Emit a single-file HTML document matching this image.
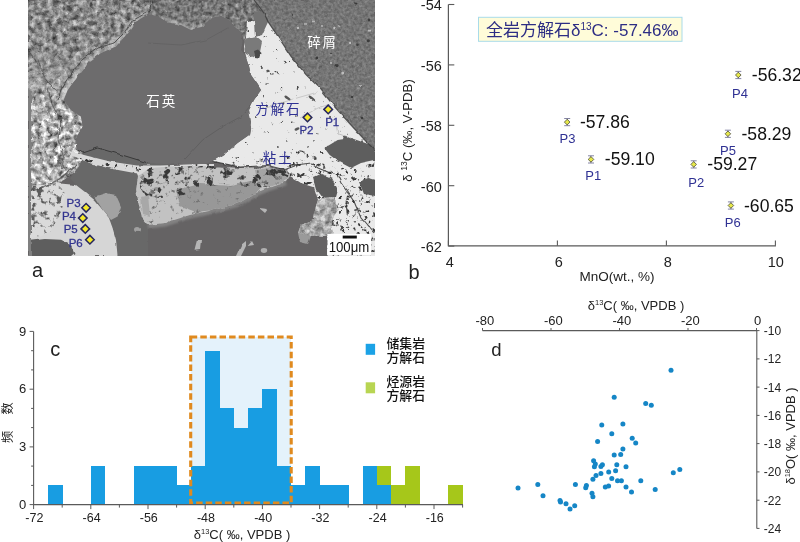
<!DOCTYPE html>
<html lang="zh"><head><meta charset="utf-8"><title>figure</title>
<style>html,body{margin:0;padding:0;background:#fff;}svg{display:block;}text{font-family:"Liberation Sans", "Noto Sans CJK SC", sans-serif;}</style></head><body>
<svg width="800" height="542" viewBox="0 0 800 542">
<rect width="800" height="542" fill="#fff"/>
<defs>
<clipPath id="photo"><rect x="28" y="0" width="347" height="256"/></clipPath>
<filter id="nMatrix" x="0" y="0" width="100%" height="100%" color-interpolation-filters="sRGB"><feTurbulence type="fractalNoise" baseFrequency="0.19" numOctaves="3" seed="4" result="t"/><feColorMatrix in="t" type="matrix" values="0.9 0 0 0 0.085  0.9 0 0 0 0.085  0.9 0 0 0 0.085  0 0 0 0 1" result="g0"/><feGaussianBlur in="g0" stdDeviation="0.5" result="g"/><feComposite in="g" in2="SourceGraphic" operator="in"/></filter>
<filter id="nBright" x="0" y="0" width="100%" height="100%" color-interpolation-filters="sRGB"><feTurbulence type="fractalNoise" baseFrequency="0.19" numOctaves="3" seed="9" result="t"/><feColorMatrix in="t" type="matrix" values="1.3 0 0 0 0.03  1.3 0 0 0 0.03  1.3 0 0 0 0.03  0 0 0 0 1" result="g0"/><feGaussianBlur in="g0" stdDeviation="0.5" result="g"/><feComposite in="g" in2="SourceGraphic" operator="in"/></filter>
<filter id="nSpeckL" x="0" y="0" width="100%" height="100%" color-interpolation-filters="sRGB"><feTurbulence type="fractalNoise" baseFrequency="0.16" numOctaves="3" seed="19" result="t"/><feColorMatrix in="t" type="matrix" values="0 0 0 0 0.36  0 0 0 0 0.36  0 0 0 0 0.36  -6.5 0 0 0 3.0" result="g0"/><feGaussianBlur in="g0" stdDeviation="0.5" result="g"/><feComposite in="g" in2="SourceGraphic" operator="in"/></filter>
<filter id="nMid" x="0" y="0" width="100%" height="100%" color-interpolation-filters="sRGB"><feTurbulence type="fractalNoise" baseFrequency="0.25" numOctaves="2" seed="12" result="t"/><feColorMatrix in="t" type="matrix" values="0.6 0 0 0 0.17  0.6 0 0 0 0.17  0.6 0 0 0 0.17  0 0 0 0 1" result="g0"/><feGaussianBlur in="g0" stdDeviation="0.4" result="g"/><feComposite in="g" in2="SourceGraphic" operator="in"/></filter>
<filter id="nDebris" x="0" y="0" width="100%" height="100%" color-interpolation-filters="sRGB"><feTurbulence type="fractalNoise" baseFrequency="0.35" numOctaves="2" seed="7" result="t"/><feColorMatrix in="t" type="matrix" values="0.45 0 0 0 0.235  0.45 0 0 0 0.235  0.45 0 0 0 0.235  0 0 0 0 1" result="g"/><feComposite in="g" in2="SourceGraphic" operator="in"/></filter>
<filter id="nCalc" x="0" y="0" width="100%" height="100%" color-interpolation-filters="sRGB"><feTurbulence type="fractalNoise" baseFrequency="0.2" numOctaves="3" seed="21" result="t"/><feColorMatrix in="t" type="matrix" values="0 0 0 0 0.3  0 0 0 0 0.3  0 0 0 0 0.3  -9 0 0 0 2.6" result="g0"/><feGaussianBlur in="g0" stdDeviation="0.4" result="g"/><feComposite in="g" in2="SourceGraphic" operator="in"/></filter>
<filter id="nCalc2" x="0" y="0" width="100%" height="100%" color-interpolation-filters="sRGB"><feTurbulence type="fractalNoise" baseFrequency="0.22" numOctaves="3" seed="33" result="t"/><feColorMatrix in="t" type="matrix" values="0 0 0 0 0.22  0 0 0 0 0.22  0 0 0 0 0.22  -7 0 0 0 2.85" result="g0"/><feGaussianBlur in="g0" stdDeviation="0.4" result="g"/><feComposite in="g" in2="SourceGraphic" operator="in"/></filter>
<filter id="nClay" x="0" y="0" width="100%" height="100%" color-interpolation-filters="sRGB"><feTurbulence type="fractalNoise" baseFrequency="0.13" numOctaves="3" seed="5" result="t"/><feColorMatrix in="t" type="matrix" values="0 0 0 0 0.22  0 0 0 0 0.22  0 0 0 0 0.22  -8 0 0 0 3.75" result="g0"/><feGaussianBlur in="g0" stdDeviation="0.4" result="g"/><feComposite in="g" in2="SourceGraphic" operator="in"/></filter>
<filter id="nClayLt" x="0" y="0" width="100%" height="100%" color-interpolation-filters="sRGB"><feTurbulence type="fractalNoise" baseFrequency="0.2" numOctaves="3" seed="15" result="t"/><feColorMatrix in="t" type="matrix" values="0 0 0 0 0.45  0 0 0 0 0.45  0 0 0 0 0.45  -6 0 0 0 2.15" result="g0"/><feGaussianBlur in="g0" stdDeviation="0.4" result="g"/><feComposite in="g" in2="SourceGraphic" operator="in"/></filter>
<filter id="wobble" x="0" y="0" width="100%" height="100%" color-interpolation-filters="sRGB"><feTurbulence type="fractalNoise" baseFrequency="0.11" numOctaves="2" seed="8" result="w"/><feDisplacementMap in="SourceGraphic" in2="w" scale="3.2" xChannelSelector="R" yChannelSelector="G" result="d"/><feGaussianBlur in="d" stdDeviation="0.35"/></filter>
<filter id="soft" x="-10%" y="-10%" width="120%" height="120%"><feGaussianBlur stdDeviation="1.3"/></filter>
<linearGradient id="fadeg" gradientUnits="userSpaceOnUse" x1="0" y1="50" x2="0" y2="112"><stop offset="0" stop-color="#fff" stop-opacity="0"/><stop offset="1" stop-color="#fff" stop-opacity="1"/></linearGradient>
<mask id="fadem" maskUnits="userSpaceOnUse" x="0" y="0" width="400" height="300"><rect x="0" y="0" width="400" height="300" fill="url(#fadeg)"/></mask>
</defs>
<g clip-path="url(#photo)">
<g filter="url(#wobble)">
<rect x="20" y="-8" width="365" height="272" fill="#656364"/>
<rect x="28" y="0" width="347" height="256" fill="#656364"/>
<polygon points="28.0,0.0 254.0,0.0 262.0,12.0 250.0,22.0 244.0,40.0 242.0,34.0 234.0,26.0 229.0,20.0 221.0,16.0 211.0,18.0 203.0,26.5 191.0,30.0 181.0,25.0 168.0,22.4 158.0,16.6 148.0,14.0 134.0,23.0 126.0,35.0 116.0,46.5 101.0,53.0 89.4,61.4 81.0,73.0 72.8,83.0 67.8,90.0 63.7,100.0 71.0,110.0 81.0,116.5 82.8,126.5 76.0,138.0 77.8,150.0 90.0,160.0 70.0,170.0 60.0,184.0 28.0,200.0" fill="#8a8a8a"/>
<polygon points="28.0,0.0 254.0,0.0 262.0,12.0 250.0,22.0 244.0,40.0 242.0,34.0 234.0,26.0 229.0,20.0 221.0,16.0 211.0,18.0 203.0,26.5 191.0,30.0 181.0,25.0 168.0,22.4 158.0,16.6 148.0,14.0 134.0,23.0 126.0,35.0 116.0,46.5 101.0,53.0 89.4,61.4 81.0,73.0 72.8,83.0 67.8,90.0 63.7,100.0 71.0,110.0 81.0,116.5 82.8,126.5 76.0,138.0 77.8,150.0 90.0,160.0 70.0,170.0 60.0,184.0 28.0,200.0" fill="#8a8a8a" filter="url(#nMatrix)"/>
<polygon points="150.0,0.0 254.0,0.0 262.0,12.0 250.0,22.0 244.0,40.0 242.0,34.0 234.0,26.0 229.0,20.0 221.0,16.0 211.0,18.0 203.0,26.5 191.0,30.0 181.0,25.0 168.0,22.4 158.0,16.6 150.0,14.0" fill="#7c7c7c" filter="url(#nMid)"/>
<g mask="url(#fadem)"><polygon points="28.0,50.0 96.0,50.0 89.4,61.4 81.0,73.0 72.8,83.0 67.8,90.0 63.7,100.0 71.0,110.0 81.0,116.5 82.8,126.5 76.0,138.0 77.8,150.0 92.0,160.0 75.0,172.0 58.0,184.0 28.0,200.0" fill="#b8b8b8" filter="url(#nBright)"/></g>
<polygon points="254.0,0.0 375.0,0.0 375.0,150.0 367.6,143.0 351.0,125.0 334.4,106.6 319.5,88.0 306.0,74.7 291.0,56.4 278.0,36.5 268.0,21.6 264.0,13.0" fill="#767676"/>
<polygon points="254.0,0.0 375.0,0.0 375.0,150.0 367.6,143.0 351.0,125.0 334.4,106.6 319.5,88.0 306.0,74.7 291.0,56.4 278.0,36.5 268.0,21.6 264.0,13.0" fill="#767676" filter="url(#nDebris)" opacity="0.6"/>
<polygon points="254.0,10.0 264.0,13.0 268.0,21.6 266.0,34.0 256.0,37.0 254.0,22.0" fill="#727272"/>
<polygon points="247.0,22.0 254.0,21.0 255.0,37.0 262.0,35.0 268.0,22.0 278.0,36.5 291.0,56.4 306.0,74.7 319.5,88.0 334.4,106.6 351.0,125.0 367.6,143.0 375.0,150.0 375.0,256.0 327.0,256.0 327.0,234.0 311.0,236.0 298.0,233.0 301.0,225.0 314.0,220.0 316.0,206.0 318.0,200.0 314.0,187.0 301.0,183.0 290.0,176.0 285.0,170.0 268.0,166.0 240.0,167.0 212.7,161.4 226.0,153.0 237.6,143.0 249.0,135.0 251.0,123.0 249.0,110.0 254.0,100.0 261.0,90.0 257.5,84.6 251.0,75.0 249.0,66.0 246.0,56.4 244.0,46.0 246.0,38.0" fill="#e9e9e9"/>
<polygon points="247.0,22.0 254.0,21.0 255.0,37.0 262.0,35.0 268.0,22.0 278.0,36.5 291.0,56.4 306.0,74.7 319.5,88.0 334.4,106.6 351.0,125.0 367.6,143.0 375.0,150.0 375.0,256.0 327.0,256.0 327.0,234.0 311.0,236.0 298.0,233.0 301.0,225.0 314.0,220.0 316.0,206.0 318.0,200.0 314.0,187.0 301.0,183.0 290.0,176.0 285.0,170.0 268.0,166.0 240.0,167.0 212.7,161.4 226.0,153.0 237.6,143.0 249.0,135.0 251.0,123.0 249.0,110.0 254.0,100.0 261.0,90.0 257.5,84.6 251.0,75.0 249.0,66.0 246.0,56.4 244.0,46.0 246.0,38.0" fill="#e9e9e9" filter="url(#nCalc)"/>
<polygon points="212.0,162.0 240.0,160.0 270.0,158.0 300.0,150.0 330.0,160.0 352.0,170.0 375.0,162.0 375.0,256.0 327.0,256.0 327.0,234.0 311.0,236.0 298.0,233.0 301.0,225.0 314.0,220.0 316.0,206.0 318.0,200.0 314.0,187.0 301.0,183.0 290.0,176.0 285.0,170.0 268.0,166.0 240.0,167.0" fill="#e0e0e0" filter="url(#nCalc2)"/>
<polygon points="244.0,40.0 256.0,37.0 262.0,42.0 260.0,52.0 252.0,57.0 246.0,54.0" fill="#7a7a7a"/>
<polygon points="324.4,148.0 337.7,140.0 351.0,138.0 361.0,141.5 371.0,145.0 375.0,151.0 375.0,160.0 361.0,163.0 351.0,168.0 337.7,161.0 329.4,154.7" fill="#5e5e5e"/>
<polygon points="313.0,178.0 322.0,174.0 332.0,178.0 338.0,190.0 336.0,197.0 322.0,198.0 316.0,190.0" fill="#5c5c5c"/>
<polygon points="359.0,182.0 368.0,178.0 375.0,180.0 375.0,196.0 364.0,194.0" fill="#5c5c5c"/>
<polygon points="318.0,200.0 334.0,197.0 338.0,210.0 330.0,222.0 334.0,236.0 311.0,236.0 298.0,233.0 301.0,225.0 314.0,220.0 316.0,206.0" fill="#a6a6a6"/>
<polygon points="318.0,200.0 334.0,197.0 338.0,210.0 330.0,222.0 334.0,236.0 311.0,236.0 298.0,233.0 301.0,225.0 314.0,220.0 316.0,206.0" fill="#a6a6a6" filter="url(#nBright)" opacity="0.6"/>
<polyline points="148,14 134,23 126,35 116,46.5 101,53 89.4,61.4 81,73 72.8,83 67.8,90 63.7,100" fill="none" stroke="#d0d0d0" stroke-width="8" opacity="0.5" filter="url(#soft)"/>
<polyline points="160,18 168,22.4 181,25 191,30 203,26.5" fill="none" stroke="#d0d0d0" stroke-width="5" opacity="0.45" filter="url(#soft)"/>
<polygon points="148.0,14.0 158.0,16.6 168.0,22.4 181.0,25.0 191.0,30.0 203.0,26.5 211.0,18.0 221.0,16.0 229.0,20.0 234.0,26.5 241.0,33.0 242.6,41.5 241.0,50.0 246.0,56.4 249.0,66.0 251.0,75.0 257.5,84.6 261.0,90.0 254.0,100.0 249.0,110.0 251.0,123.0 249.0,135.0 237.6,143.0 226.0,153.0 212.7,161.4 204.4,164.0 184.5,164.7 178.0,163.0 161.0,164.7 148.0,163.0 121.0,154.7 97.7,148.0 82.8,153.0 77.8,150.0 76.0,138.0 82.8,126.5 81.0,116.5 71.0,110.0 63.7,100.0 67.8,90.0 72.8,83.0 81.0,73.0 89.4,61.4 101.0,53.0 116.0,46.5 126.0,35.0 134.0,23.0" fill="#6d6c6d"/>
<polygon points="82.8,153.0 97.7,148.0 121.0,154.7 148.0,163.0 178.0,165.0 165.0,172.0 155.0,183.0 146.0,195.0 140.0,205.0 142.0,218.0 148.0,225.0 148.0,256.0 117.6,256.0 116.0,239.7 112.6,228.0 109.0,218.0 101.0,208.0 94.4,200.0 84.4,191.6 76.0,185.0 70.0,178.0 80.0,165.0" fill="#686868"/>
<polygon points="70.0,151.0 84.0,155.0 94.0,157.5 110.0,161.5 137.0,165.5 160.0,165.5 200.0,164.0 214.0,164.0 214.0,169.0 190.0,170.0 160.0,172.0 138.0,176.0 137.0,173.5 110.0,168.5 91.0,163.5 72.0,156.0" fill="#d8d8d8"/>
<polygon points="70.0,151.0 84.0,155.0 94.0,157.5 110.0,161.5 137.0,165.5 160.0,165.5 200.0,164.0 214.0,164.0 214.0,169.0 190.0,170.0 160.0,172.0 138.0,176.0 137.0,173.5 110.0,168.5 91.0,163.5 72.0,156.0" fill="#d8d8d8" filter="url(#nCalc2)"/>
<polyline points="77.8,150 82.8,153 97.7,148 121,154.7 148,163" fill="none" stroke="#3a3a3a" stroke-width="1"/>
<polyline points="148,226 165,224 190,216 214,211 239,204 256,194 268,189 286,183" fill="none" stroke="#909090" stroke-width="5" opacity="0.7" filter="url(#soft)"/>
<polygon points="136.0,190.0 138.0,176.0 150.0,168.0 178.0,166.0 212.0,166.0 240.0,168.0 268.0,167.0 285.0,171.0 290.0,176.0 286.0,182.0 268.0,188.0 256.0,193.0 239.0,203.0 214.0,210.0 190.0,215.0 165.0,223.0 148.0,225.0 142.0,218.0 139.0,205.0" fill="#c2c2c2"/>
<polygon points="176.0,190.0 200.0,184.0 232.0,186.0 252.0,180.0 262.0,186.0 256.0,193.0 239.0,203.0 214.0,210.0 196.0,212.0 180.0,206.0" fill="#989898"/>
<polygon points="255.0,170.0 268.0,168.0 285.0,172.0 289.0,177.0 284.0,182.0 268.0,187.0 258.0,184.0" fill="#a4a4a4"/>
<polygon points="137.0,182.0 138.0,176.0 150.0,168.0 178.0,166.0 212.0,166.0 240.0,168.0 268.0,167.0 285.0,171.0 290.0,176.0 286.0,182.0 268.0,188.0 250.0,186.0 225.0,184.0 200.0,188.0 180.0,196.0 160.0,198.0 145.0,196.0" fill="#bdbdbd" filter="url(#nClay)"/>
<polygon points="136.0,190.0 138.0,176.0 150.0,168.0 178.0,166.0 212.0,166.0 240.0,168.0 268.0,167.0 285.0,171.0 290.0,176.0 286.0,182.0 268.0,188.0 256.0,193.0 239.0,203.0 214.0,210.0 190.0,215.0 165.0,223.0 148.0,225.0 142.0,218.0 139.0,205.0" fill="#bdbdbd" filter="url(#nClayLt)"/>
<polygon points="194.5,249.7 197.0,240.0 201.0,240.0 200.0,249.0" fill="#b5b5b5"/>
<polygon points="236.0,256.0 241.0,245.0 246.0,241.0 246.0,246.0 241.0,256.0" fill="#b5b5b5"/>
<polygon points="247.6,246.0 252.0,241.0 254.0,245.0" fill="#b5b5b5"/>
<polygon points="259.0,208.0 268.0,209.0 265.0,213.0" fill="#b5b5b5"/>
<ellipse cx="264" cy="250.5" rx="3.2" ry="2.4" fill="#b0b0b0"/>
<polygon points="298.0,233.0 311.0,236.0 308.0,244.0 300.0,242.0" fill="#9a9a9a"/>
<polygon points="28.0,196.0 40.0,190.0 57.9,183.3 76.0,185.0 84.4,191.6 94.4,200.0 101.0,208.0 109.0,218.0 112.6,228.0 116.0,239.7 117.6,256.0 28.0,256.0" fill="#d6d6d6"/>
<polygon points="28.0,186.0 57.9,183.3 66.0,195.0 60.0,215.0 50.0,232.0 28.0,240.0" fill="#dadada"/>
<polygon points="28.0,186.0 57.9,183.3 66.0,195.0 60.0,215.0 50.0,232.0 28.0,240.0" fill="#dadada" filter="url(#nSpeckL)"/>
<polygon points="94.4,196.5 106.0,193.0 116.0,195.0 121.0,206.5 117.6,216.5 111.0,220.0 102.7,210.0" fill="#a2a2a2"/>
<polygon points="28.0,241.0 44.6,239.0 61.0,239.7 71.0,244.7 74.5,253.0 71.0,256.0 28.0,256.0" fill="#5e5e5e"/>
<polygon points="141.0,197.0 148.0,195.0 150.0,216.0 143.0,214.0" fill="#a8a8a8"/>
<ellipse cx="137" cy="229.5" rx="3" ry="2.5" fill="#a0a0a0"/>
<polyline points="28,192 38,189 48,185 58,180 68,172 76,166" fill="none" stroke="#3a3a3a" stroke-width="1.6" opacity="0.65"/>
<rect x="28" y="90" width="3" height="166" fill="#808080"/>
<polygon points="254.0,51.0 258.0,49.5 261.5,53.0 260.0,57.5 255.5,57.0" fill="#4a4a4a"/>
<ellipse cx="268" cy="71" rx="1.8" ry="1.2" transform="rotate(20 268 71)" fill="#3c3c3c" opacity="0.85"/>
<ellipse cx="272.5" cy="74.5" rx="1.6" ry="1.1" transform="rotate(-10 272.5 74.5)" fill="#3c3c3c" opacity="0.85"/>
<ellipse cx="287.5" cy="98" rx="3.6" ry="1.3" transform="rotate(35 287.5 98)" fill="#3c3c3c" opacity="0.85"/>
<ellipse cx="312" cy="98.5" rx="4.2" ry="1.4" transform="rotate(40 312 98.5)" fill="#3c3c3c" opacity="0.85"/>
<ellipse cx="297" cy="129" rx="2.6" ry="1.4" transform="rotate(-20 297 129)" fill="#3c3c3c" opacity="0.85"/>
<ellipse cx="345" cy="137" rx="2.2" ry="1.2" transform="rotate(10 345 137)" fill="#3c3c3c" opacity="0.85"/>
<polyline points="262,108 290,100 318,92" fill="none" stroke="#999" stroke-width="0.7" opacity="0.6"/>
<polyline points="300,118 318,108 330,104" fill="none" stroke="#999" stroke-width="0.7" opacity="0.6"/>
<polyline points="336,122 338,134 350,138" fill="none" stroke="#888" stroke-width="0.7" opacity="0.6"/>
<polyline points="184.5,159.7 202.8,139.8 222.7,126.5 241,116.5 251,105" fill="none" stroke="#444" stroke-width="0.8" opacity="0.4"/>
<polyline points="148,43 181,45 206,40 227.7,28" fill="none" stroke="#444" stroke-width="0.8" opacity="0.28"/>
<circle cx="356.8" cy="4" r="1.6" fill="#2e2e2e" opacity="0.8"/>
<circle cx="369" cy="20" r="1.4" fill="#2e2e2e" opacity="0.8"/>
<circle cx="368.4" cy="40.7" r="1.5" fill="#2e2e2e" opacity="0.8"/>
<circle cx="358.5" cy="44.8" r="1.3" fill="#2e2e2e" opacity="0.8"/>
<circle cx="317" cy="58" r="1.5" fill="#2e2e2e" opacity="0.8"/>
<circle cx="336" cy="65.6" r="1.6" fill="#2e2e2e" opacity="0.8"/>
<circle cx="331" cy="53" r="1.0" fill="#2e2e2e" opacity="0.8"/>
<circle cx="293" cy="15" r="1.0" fill="#2e2e2e" opacity="0.8"/>
<circle cx="352" cy="96" r="1.3" fill="#2e2e2e" opacity="0.8"/>
<circle cx="362" cy="118" r="1.2" fill="#2e2e2e" opacity="0.8"/>
<circle cx="298" cy="28" r="1.2" fill="#d8d8d8" opacity="0.75"/>
<circle cx="313" cy="21.6" r="1.0" fill="#d8d8d8" opacity="0.75"/>
<circle cx="334.4" cy="28" r="1.2" fill="#d8d8d8" opacity="0.75"/>
<circle cx="339.4" cy="25.7" r="1.0" fill="#d8d8d8" opacity="0.75"/>
<circle cx="349.3" cy="44" r="1.3" fill="#d8d8d8" opacity="0.75"/>
<circle cx="369" cy="30.7" r="1.1" fill="#d8d8d8" opacity="0.75"/>
<circle cx="342.7" cy="73" r="1.5" fill="#d8d8d8" opacity="0.75"/>
<circle cx="331" cy="63" r="1.0" fill="#d8d8d8" opacity="0.75"/>
<circle cx="305" cy="24" r="0.9" fill="#d8d8d8" opacity="0.75"/>
<circle cx="322" cy="26" r="0.9" fill="#d8d8d8" opacity="0.75"/>
<circle cx="360" cy="86" r="1.1" fill="#d8d8d8" opacity="0.75"/>
<polyline points="254,0 264,13 268,21.6 278,36.5 291,56.4 306,74.7 319.5,88 334.4,106.6 351,125 367.6,143 375,150" fill="none" stroke="#3c3c3c" stroke-width="1.2" opacity="0.8"/>
<polyline points="212.7,161.4 240,167 268,165.5 284.6,169.7 298,164.7 311,163 318,168 337.7,176 341,183 354,201.5 361,218 374,233" fill="none" stroke="#333" stroke-width="1.1" opacity="0.85"/>
<polyline points="28,50 38,64 46,80 56,90" fill="none" stroke="#3c3c3c" stroke-width="0.9" opacity="0.6"/>
<polyline points="152,0 150,10 146,13 132,21 124,33 114,43 98,48 84,58 74,70 66,81 61,90 58,100" fill="none" stroke="#383838" stroke-width="1" opacity="0.75"/>
<polyline points="48,88 52,104 60,120 58,140 64,158 60,176" fill="none" stroke="#3c3c3c" stroke-width="1.2" opacity="0.6"/>
</g>
<rect x="327.4" y="233.9" width="43.6" height="21" fill="#fff"/>
<rect x="342.7" y="235.6" width="14.1" height="2.9" fill="#111"/>
<text x="349" y="252.2" font-size="14" text-anchor="middle" fill="#111" textLength="40.6" lengthAdjust="spacingAndGlyphs">100μm</text>
</g>
<text x="146.3" y="106.3" font-size="13.5" letter-spacing="1.9" fill="#fff">石英</text>
<text x="307.2" y="46.7" font-size="13.5" letter-spacing="1.9" fill="#fff">碎屑</text>
<text x="255.3" y="114.3" font-size="13.5" letter-spacing="1.9" fill="#2f3193">方解石</text>
<text x="262.8" y="163.3" font-size="13.5" letter-spacing="1.6" fill="#2f3193">粘土</text>
<polygon points="323.9,109.4 328.2,105.1 332.5,109.4 328.2,113.7" fill="#f4e92a" stroke="#26265e" stroke-width="1.5" stroke-linejoin="miter"/>
<polygon points="303.2,117.4 307.5,113.1 311.8,117.4 307.5,121.7" fill="#f4e92a" stroke="#26265e" stroke-width="1.5" stroke-linejoin="miter"/>
<polygon points="81.8,207.8 86.1,203.5 90.4,207.8 86.1,212.1" fill="#f4e92a" stroke="#26265e" stroke-width="1.5" stroke-linejoin="miter"/>
<polygon points="78.5,218.1 82.8,213.8 87.1,218.1 82.8,222.4" fill="#f4e92a" stroke="#26265e" stroke-width="1.5" stroke-linejoin="miter"/>
<polygon points="81.0,228.9 85.3,224.6 89.6,228.9 85.3,233.2" fill="#f4e92a" stroke="#26265e" stroke-width="1.5" stroke-linejoin="miter"/>
<polygon points="85.6,239.7 89.9,235.4 94.2,239.7 89.9,244.0" fill="#f4e92a" stroke="#26265e" stroke-width="1.5" stroke-linejoin="miter"/>
<text x="332.2" y="125.8" font-size="11.5" text-anchor="middle" fill="#33358f" stroke="#33358f" stroke-width="0.3">P1</text>
<text x="306.5" y="133.6" font-size="11.5" text-anchor="middle" fill="#33358f" stroke="#33358f" stroke-width="0.3">P2</text>
<text x="73.6" y="206.6" font-size="11.5" text-anchor="middle" fill="#33358f" stroke="#33358f" stroke-width="0.3">P3</text>
<text x="69" y="220.4" font-size="11.5" text-anchor="middle" fill="#33358f" stroke="#33358f" stroke-width="0.3">P4</text>
<text x="70.7" y="233" font-size="11.5" text-anchor="middle" fill="#33358f" stroke="#33358f" stroke-width="0.3">P5</text>
<text x="75.7" y="247" font-size="11.5" text-anchor="middle" fill="#33358f" stroke="#33358f" stroke-width="0.3">P6</text>
<text x="32" y="277.3" font-size="20" fill="#222">a</text>
<path d="M448.4,4.5 V245.8 H775.9" fill="none" stroke="#5a5a5a" stroke-width="1.2"/>
<line x1="448.4" y1="4.5" x2="454.3" y2="4.5" stroke="#5a5a5a" stroke-width="1.1"/>
<text x="441.8" y="10.3" font-size="14.5" text-anchor="end" fill="#222">-54</text>
<line x1="448.4" y1="64.9" x2="454.3" y2="64.9" stroke="#5a5a5a" stroke-width="1.1"/>
<text x="441.8" y="70.7" font-size="14.5" text-anchor="end" fill="#222">-56</text>
<line x1="448.4" y1="125.3" x2="454.3" y2="125.3" stroke="#5a5a5a" stroke-width="1.1"/>
<text x="441.8" y="131.1" font-size="14.5" text-anchor="end" fill="#222">-58</text>
<line x1="448.4" y1="185.7" x2="454.3" y2="185.7" stroke="#5a5a5a" stroke-width="1.1"/>
<text x="441.8" y="191.5" font-size="14.5" text-anchor="end" fill="#222">-60</text>
<line x1="448.4" y1="246.1" x2="454.3" y2="246.1" stroke="#5a5a5a" stroke-width="1.1"/>
<text x="441.8" y="251.9" font-size="14.5" text-anchor="end" fill="#222">-62</text>
<line x1="448.4" y1="245.8" x2="448.4" y2="240.5" stroke="#5a5a5a" stroke-width="1.1"/>
<text x="449.9" y="267.4" font-size="14.5" text-anchor="middle" fill="#222">4</text>
<line x1="557.4" y1="245.8" x2="557.4" y2="240.5" stroke="#5a5a5a" stroke-width="1.1"/>
<text x="558.9" y="267.4" font-size="14.5" text-anchor="middle" fill="#222">6</text>
<line x1="666.4" y1="245.8" x2="666.4" y2="240.5" stroke="#5a5a5a" stroke-width="1.1"/>
<text x="667.9" y="267.4" font-size="14.5" text-anchor="middle" fill="#222">8</text>
<line x1="775.4" y1="245.8" x2="775.4" y2="240.5" stroke="#5a5a5a" stroke-width="1.1"/>
<text x="775.7" y="267.4" font-size="14.5" text-anchor="middle" fill="#222">10</text>
<text x="617" y="281" font-size="13.5" text-anchor="middle" fill="#222">MnO(wt., %)</text>
<text x="408.5" y="279" font-size="20" fill="#222">b</text>
<text transform="translate(411.5,130.5) rotate(-90)" font-size="13.2" text-anchor="middle" fill="#222">δ <tspan font-size="8.5" dy="-4.5">13</tspan><tspan dy="4.5">C (‰, V-PDB)</tspan></text>
<rect x="478.5" y="17.3" width="203.5" height="24" fill="#fffcd9" stroke="#a9dbe9" stroke-width="1"/>
<text x="486" y="36.2" font-size="17" fill="#2d2d84">全岩方解石δ<tspan font-size="10" dy="-6.5">13</tspan><tspan dy="6.5">C: -57.46‰</tspan></text>
<path d="M588.0,155.8 h6 M588.0,163.0 h6 M591.0,155.8 v7.2" fill="none" stroke="#77779a" stroke-width="0.9"/>
<polygon points="588.2,159.4 591.0,156.6 593.8,159.4 591.0,162.2" fill="#e6e84a" stroke="#4a4a3a" stroke-width="0.8"/>
<text x="604.8" y="165.4" font-size="17.6" fill="#111">-59.10</text>
<text x="593.3" y="179.5" font-size="13" text-anchor="middle" fill="#2f3193">P1</text>
<path d="M690.7,160.8 h6 M690.7,168.0 h6 M693.7,160.8 v7.2" fill="none" stroke="#77779a" stroke-width="0.9"/>
<polygon points="690.9,164.4 693.7,161.6 696.5,164.4 693.7,167.2" fill="#e6e84a" stroke="#4a4a3a" stroke-width="0.8"/>
<text x="707.3" y="170.4" font-size="17.6" fill="#111">-59.27</text>
<text x="696.2" y="187" font-size="13" text-anchor="middle" fill="#2f3193">P2</text>
<path d="M564.2,118.5 h6 M564.2,125.7 h6 M567.2,118.5 v7.2" fill="none" stroke="#77779a" stroke-width="0.9"/>
<polygon points="564.4,122.1 567.2,119.3 570.0,122.1 567.2,124.9" fill="#e6e84a" stroke="#4a4a3a" stroke-width="0.8"/>
<text x="579.9" y="128.1" font-size="17.6" fill="#111">-57.86</text>
<text x="567.5" y="143" font-size="13" text-anchor="middle" fill="#2f3193">P3</text>
<path d="M735.3,71.4 h6 M735.3,78.6 h6 M738.3,71.4 v7.2" fill="none" stroke="#77779a" stroke-width="0.9"/>
<polygon points="735.5,75.0 738.3,72.2 741.1,75.0 738.3,77.8" fill="#e6e84a" stroke="#4a4a3a" stroke-width="0.8"/>
<text x="751.8" y="81.0" font-size="17.6" fill="#111">-56.32</text>
<text x="740" y="97.5" font-size="13" text-anchor="middle" fill="#2f3193">P4</text>
<path d="M724.9,130.2 h6 M724.9,137.4 h6 M727.9,130.2 v7.2" fill="none" stroke="#77779a" stroke-width="0.9"/>
<polygon points="725.1,133.8 727.9,131.0 730.7,133.8 727.9,136.6" fill="#e6e84a" stroke="#4a4a3a" stroke-width="0.8"/>
<text x="741.5" y="139.8" font-size="17.6" fill="#111">-58.29</text>
<text x="728" y="155" font-size="13" text-anchor="middle" fill="#2f3193">P5</text>
<path d="M727.9,201.9 h6 M727.9,209.1 h6 M730.9,201.9 v7.2" fill="none" stroke="#77779a" stroke-width="0.9"/>
<polygon points="728.1,205.5 730.9,202.7 733.7,205.5 730.9,208.3" fill="#e6e84a" stroke="#4a4a3a" stroke-width="0.8"/>
<text x="744" y="211.5" font-size="17.6" fill="#111">-60.65</text>
<text x="732.7" y="226.5" font-size="13" text-anchor="middle" fill="#2f3193">P6</text>
<rect x="190.9" y="337" width="100.1" height="167.6" fill="#e4f2fb"/>
<rect x="47.90" y="485.36" width="14.60" height="19.24" fill="#189de2" shape-rendering="crispEdges"/>
<rect x="90.80" y="466.12" width="14.60" height="38.48" fill="#189de2" shape-rendering="crispEdges"/>
<rect x="133.70" y="466.12" width="14.60" height="38.48" fill="#189de2" shape-rendering="crispEdges"/>
<rect x="148.00" y="466.12" width="14.60" height="38.48" fill="#189de2" shape-rendering="crispEdges"/>
<rect x="162.30" y="466.12" width="14.60" height="38.48" fill="#189de2" shape-rendering="crispEdges"/>
<rect x="176.60" y="485.36" width="14.60" height="19.24" fill="#189de2" shape-rendering="crispEdges"/>
<rect x="190.90" y="466.12" width="14.60" height="38.48" fill="#189de2" shape-rendering="crispEdges"/>
<rect x="205.20" y="350.68" width="14.60" height="153.92" fill="#189de2" shape-rendering="crispEdges"/>
<rect x="219.50" y="408.40" width="14.60" height="96.20" fill="#189de2" shape-rendering="crispEdges"/>
<rect x="233.80" y="427.64" width="14.60" height="76.96" fill="#189de2" shape-rendering="crispEdges"/>
<rect x="248.10" y="408.40" width="14.60" height="96.20" fill="#189de2" shape-rendering="crispEdges"/>
<rect x="262.40" y="389.16" width="14.60" height="115.44" fill="#189de2" shape-rendering="crispEdges"/>
<rect x="276.70" y="466.12" width="14.60" height="38.48" fill="#189de2" shape-rendering="crispEdges"/>
<rect x="291.00" y="485.36" width="14.60" height="19.24" fill="#189de2" shape-rendering="crispEdges"/>
<rect x="305.30" y="466.12" width="14.60" height="38.48" fill="#189de2" shape-rendering="crispEdges"/>
<rect x="319.60" y="485.36" width="14.60" height="19.24" fill="#189de2" shape-rendering="crispEdges"/>
<rect x="333.90" y="485.36" width="14.60" height="19.24" fill="#189de2" shape-rendering="crispEdges"/>
<rect x="362.50" y="466.12" width="14.60" height="38.48" fill="#189de2" shape-rendering="crispEdges"/>
<rect x="376.80" y="485.36" width="14.60" height="19.24" fill="#189de2" shape-rendering="crispEdges"/>
<rect x="376.80" y="466.12" width="14.60" height="19.24" fill="#a6c71a" shape-rendering="crispEdges"/>
<rect x="391.10" y="485.36" width="14.60" height="19.24" fill="#a6c71a" shape-rendering="crispEdges"/>
<rect x="405.40" y="466.12" width="14.60" height="38.48" fill="#a6c71a" shape-rendering="crispEdges"/>
<rect x="448.30" y="485.36" width="14.60" height="19.24" fill="#a6c71a" shape-rendering="crispEdges"/>
<rect x="190.7" y="337" width="100.5" height="166.1" fill="none" stroke="#e08a1f" stroke-width="3.1" stroke-dasharray="6.5 3.1"/>
<path d="M33.6,331.4 V504.6 H463" fill="none" stroke="#5a5a5a" stroke-width="1.1"/>
<line x1="29.6" y1="504.6" x2="33.6" y2="504.6" stroke="#5a5a5a" stroke-width="1"/>
<text x="26.3" y="508.7" font-size="13" text-anchor="end" fill="#222">0</text>
<line x1="31.1" y1="485.4" x2="33.6" y2="485.4" stroke="#5a5a5a" stroke-width="1"/>
<line x1="31.1" y1="466.1" x2="33.6" y2="466.1" stroke="#5a5a5a" stroke-width="1"/>
<line x1="29.6" y1="446.9" x2="33.6" y2="446.9" stroke="#5a5a5a" stroke-width="1"/>
<text x="26.3" y="451.0" font-size="13" text-anchor="end" fill="#222">3</text>
<line x1="31.1" y1="427.6" x2="33.6" y2="427.6" stroke="#5a5a5a" stroke-width="1"/>
<line x1="31.1" y1="408.4" x2="33.6" y2="408.4" stroke="#5a5a5a" stroke-width="1"/>
<line x1="29.6" y1="389.2" x2="33.6" y2="389.2" stroke="#5a5a5a" stroke-width="1"/>
<text x="26.3" y="393.3" font-size="13" text-anchor="end" fill="#222">6</text>
<line x1="31.1" y1="369.9" x2="33.6" y2="369.9" stroke="#5a5a5a" stroke-width="1"/>
<line x1="31.1" y1="350.7" x2="33.6" y2="350.7" stroke="#5a5a5a" stroke-width="1"/>
<line x1="29.6" y1="331.4" x2="33.6" y2="331.4" stroke="#5a5a5a" stroke-width="1"/>
<text x="26.3" y="335.5" font-size="13" text-anchor="end" fill="#222">9</text>
<line x1="33.6" y1="504.6" x2="33.6" y2="509.1" stroke="#5a5a5a" stroke-width="1"/>
<text x="34.4" y="521.6" font-size="12.5" text-anchor="middle" fill="#222">-72</text>
<line x1="62.2" y1="504.6" x2="62.2" y2="507.6" stroke="#5a5a5a" stroke-width="1"/>
<line x1="90.8" y1="504.6" x2="90.8" y2="509.1" stroke="#5a5a5a" stroke-width="1"/>
<text x="91.6" y="521.6" font-size="12.5" text-anchor="middle" fill="#222">-64</text>
<line x1="119.4" y1="504.6" x2="119.4" y2="507.6" stroke="#5a5a5a" stroke-width="1"/>
<line x1="148.0" y1="504.6" x2="148.0" y2="509.1" stroke="#5a5a5a" stroke-width="1"/>
<text x="148.8" y="521.6" font-size="12.5" text-anchor="middle" fill="#222">-56</text>
<line x1="176.6" y1="504.6" x2="176.6" y2="507.6" stroke="#5a5a5a" stroke-width="1"/>
<line x1="205.2" y1="504.6" x2="205.2" y2="509.1" stroke="#5a5a5a" stroke-width="1"/>
<text x="206.0" y="521.6" font-size="12.5" text-anchor="middle" fill="#222">-48</text>
<line x1="233.8" y1="504.6" x2="233.8" y2="507.6" stroke="#5a5a5a" stroke-width="1"/>
<line x1="262.4" y1="504.6" x2="262.4" y2="509.1" stroke="#5a5a5a" stroke-width="1"/>
<text x="263.2" y="521.6" font-size="12.5" text-anchor="middle" fill="#222">-40</text>
<line x1="291.0" y1="504.6" x2="291.0" y2="507.6" stroke="#5a5a5a" stroke-width="1"/>
<line x1="319.6" y1="504.6" x2="319.6" y2="509.1" stroke="#5a5a5a" stroke-width="1"/>
<text x="320.4" y="521.6" font-size="12.5" text-anchor="middle" fill="#222">-32</text>
<line x1="348.2" y1="504.6" x2="348.2" y2="507.6" stroke="#5a5a5a" stroke-width="1"/>
<line x1="376.8" y1="504.6" x2="376.8" y2="509.1" stroke="#5a5a5a" stroke-width="1"/>
<text x="377.6" y="521.6" font-size="12.5" text-anchor="middle" fill="#222">-24</text>
<line x1="405.4" y1="504.6" x2="405.4" y2="507.6" stroke="#5a5a5a" stroke-width="1"/>
<line x1="434.0" y1="504.6" x2="434.0" y2="509.1" stroke="#5a5a5a" stroke-width="1"/>
<text x="434.8" y="521.6" font-size="12.5" text-anchor="middle" fill="#222">-16</text>
<line x1="462.6" y1="504.6" x2="462.6" y2="507.6" stroke="#5a5a5a" stroke-width="1"/>
<text x="50.2" y="356.2" font-size="20" fill="#222">c</text>
<text transform="translate(11.6,443) rotate(-90)" font-size="12.2" letter-spacing="16.3" fill="#222">频数</text>
<text x="242" y="538.5" font-size="13" text-anchor="middle" fill="#222">δ<tspan font-size="7.5" dy="-5">13</tspan><tspan dy="5">C( ‰, VPDB )</tspan></text>
<rect x="365.7" y="343.8" width="9.4" height="11" fill="#1ba2e6"/>
<rect x="365.7" y="382.3" width="9.4" height="11" fill="#b8d552"/>
<text x="386.4" y="347.9" font-size="12.9" fill="#111" font-weight="500">储集岩</text>
<text x="386.4" y="362.1" font-size="12.9" fill="#111" font-weight="500">方解石</text>
<text x="386.4" y="385.6" font-size="12.9" fill="#111" font-weight="500">烃源岩</text>
<text x="386.4" y="399.8" font-size="12.9" fill="#111" font-weight="500">方解石</text>
<path d="M482.5,330.6 H756.8 V528.5" fill="none" stroke="#5a5a5a" stroke-width="1.1"/>
<line x1="482.5" y1="330.6" x2="482.5" y2="328" stroke="#5a5a5a" stroke-width="1"/>
<text x="484.9" y="325.2" font-size="13" text-anchor="middle" fill="#222">-80</text>
<line x1="551.0" y1="330.6" x2="551.0" y2="328" stroke="#5a5a5a" stroke-width="1"/>
<text x="553.4" y="325.2" font-size="13" text-anchor="middle" fill="#222">-60</text>
<line x1="619.5" y1="330.6" x2="619.5" y2="328" stroke="#5a5a5a" stroke-width="1"/>
<text x="621.9" y="325.2" font-size="13" text-anchor="middle" fill="#222">-40</text>
<line x1="688.0" y1="330.6" x2="688.0" y2="328" stroke="#5a5a5a" stroke-width="1"/>
<text x="690.4" y="325.2" font-size="13" text-anchor="middle" fill="#222">-20</text>
<line x1="756.5" y1="330.6" x2="756.5" y2="328" stroke="#5a5a5a" stroke-width="1"/>
<text x="757.7" y="325.2" font-size="13" text-anchor="middle" fill="#222">0</text>
<line x1="756.8" y1="330.6" x2="759.5" y2="330.6" stroke="#5a5a5a" stroke-width="1"/>
<text x="763.8" y="335.0" font-size="12" fill="#222">-10</text>
<line x1="756.8" y1="358.9" x2="759.5" y2="358.9" stroke="#5a5a5a" stroke-width="1"/>
<text x="763.8" y="363.3" font-size="12" fill="#222">-12</text>
<line x1="756.8" y1="387.1" x2="759.5" y2="387.1" stroke="#5a5a5a" stroke-width="1"/>
<text x="763.8" y="391.5" font-size="12" fill="#222">-14</text>
<line x1="756.8" y1="415.4" x2="759.5" y2="415.4" stroke="#5a5a5a" stroke-width="1"/>
<text x="763.8" y="419.8" font-size="12" fill="#222">-16</text>
<line x1="756.8" y1="443.6" x2="759.5" y2="443.6" stroke="#5a5a5a" stroke-width="1"/>
<text x="763.8" y="448.0" font-size="12" fill="#222">-18</text>
<line x1="756.8" y1="471.9" x2="759.5" y2="471.9" stroke="#5a5a5a" stroke-width="1"/>
<text x="763.8" y="476.3" font-size="12" fill="#222">-20</text>
<line x1="756.8" y1="500.2" x2="759.5" y2="500.2" stroke="#5a5a5a" stroke-width="1"/>
<text x="763.8" y="504.6" font-size="12" fill="#222">-22</text>
<line x1="756.8" y1="528.4" x2="759.5" y2="528.4" stroke="#5a5a5a" stroke-width="1"/>
<text x="763.8" y="532.8" font-size="12" fill="#222">-24</text>
<text x="491.2" y="355.6" font-size="18.5" fill="#222">d</text>
<text x="636" y="309.6" font-size="13" text-anchor="middle" fill="#222">δ<tspan font-size="7.5" dy="-5">13</tspan><tspan dy="5">C( ‰, VPDB )</tspan></text>
<text transform="translate(795.3,436) rotate(-90)" font-size="13" text-anchor="middle" fill="#222">δ<tspan font-size="7.5" dy="-5">18</tspan><tspan dy="5">O( ‰, VPDB )</tspan></text>
<circle cx="518" cy="488" r="2.5" fill="#1586c6"/>
<circle cx="537.8" cy="484.5" r="2.5" fill="#1586c6"/>
<circle cx="543" cy="495.8" r="2.5" fill="#1586c6"/>
<circle cx="560" cy="500.5" r="2.5" fill="#1586c6"/>
<circle cx="560.5" cy="502" r="2.5" fill="#1586c6"/>
<circle cx="566" cy="503.7" r="2.5" fill="#1586c6"/>
<circle cx="570" cy="509.1" r="2.5" fill="#1586c6"/>
<circle cx="574.7" cy="505.8" r="2.5" fill="#1586c6"/>
<circle cx="575.4" cy="484.5" r="2.5" fill="#1586c6"/>
<circle cx="586.4" cy="485.5" r="2.5" fill="#1586c6"/>
<circle cx="585.7" cy="487.8" r="2.5" fill="#1586c6"/>
<circle cx="592" cy="493.2" r="2.5" fill="#1586c6"/>
<circle cx="592.9" cy="496.7" r="2.5" fill="#1586c6"/>
<circle cx="592.9" cy="479.3" r="2.5" fill="#1586c6"/>
<circle cx="596" cy="475.4" r="2.5" fill="#1586c6"/>
<circle cx="600.9" cy="473.6" r="2.5" fill="#1586c6"/>
<circle cx="593.6" cy="460.8" r="2.5" fill="#1586c6"/>
<circle cx="595.3" cy="464" r="2.5" fill="#1586c6"/>
<circle cx="594.4" cy="466.7" r="2.5" fill="#1586c6"/>
<circle cx="602.4" cy="464.7" r="2.5" fill="#1586c6"/>
<circle cx="600.9" cy="466.6" r="2.5" fill="#1586c6"/>
<circle cx="597.6" cy="441.5" r="2.5" fill="#1586c6"/>
<circle cx="614.2" cy="454.9" r="2.5" fill="#1586c6"/>
<circle cx="620.7" cy="454.4" r="2.5" fill="#1586c6"/>
<circle cx="616.8" cy="464.8" r="2.5" fill="#1586c6"/>
<circle cx="615.6" cy="470.7" r="2.5" fill="#1586c6"/>
<circle cx="608.7" cy="472" r="2.5" fill="#1586c6"/>
<circle cx="611.8" cy="478.4" r="2.5" fill="#1586c6"/>
<circle cx="617.5" cy="480.7" r="2.5" fill="#1586c6"/>
<circle cx="621.4" cy="480.8" r="2.5" fill="#1586c6"/>
<circle cx="605.3" cy="487.1" r="2.5" fill="#1586c6"/>
<circle cx="608.6" cy="486.1" r="2.5" fill="#1586c6"/>
<circle cx="601.75" cy="424.9" r="2.5" fill="#1586c6"/>
<circle cx="622.9" cy="424" r="2.5" fill="#1586c6"/>
<circle cx="611.8" cy="433.7" r="2.5" fill="#1586c6"/>
<circle cx="632.2" cy="438.3" r="2.5" fill="#1586c6"/>
<circle cx="635.7" cy="443" r="2.5" fill="#1586c6"/>
<circle cx="622.9" cy="449" r="2.5" fill="#1586c6"/>
<circle cx="626" cy="466.7" r="2.5" fill="#1586c6"/>
<circle cx="640.8" cy="480.8" r="2.5" fill="#1586c6"/>
<circle cx="626" cy="487" r="2.5" fill="#1586c6"/>
<circle cx="631.5" cy="491.9" r="2.5" fill="#1586c6"/>
<circle cx="655.2" cy="489.5" r="2.5" fill="#1586c6"/>
<circle cx="673.3" cy="472.8" r="2.5" fill="#1586c6"/>
<circle cx="679.8" cy="469.5" r="2.5" fill="#1586c6"/>
<circle cx="671" cy="370.3" r="2.5" fill="#1586c6"/>
<circle cx="614.2" cy="397.3" r="2.5" fill="#1586c6"/>
<circle cx="645.7" cy="403.4" r="2.5" fill="#1586c6"/>
<circle cx="651.3" cy="405.2" r="2.5" fill="#1586c6"/>
</svg></body></html>
